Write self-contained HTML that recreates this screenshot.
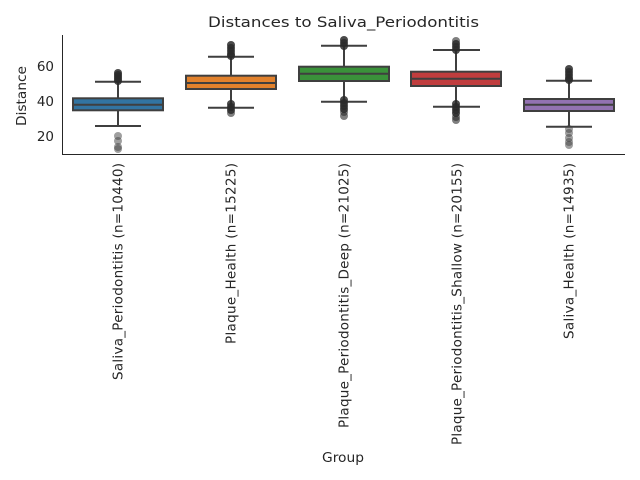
<!DOCTYPE html>
<html><head><style>body{margin:0;background:#fff}svg{display:block}text{font-family:"DejaVu Sans","Liberation Sans",sans-serif;fill:#262626}</style></head><body>
<svg width="640" height="480" viewBox="0 0 640 480" xmlns="http://www.w3.org/2000/svg">
<text x="343.5" y="27" font-size="14.4" text-anchor="middle" textLength="271" lengthAdjust="spacingAndGlyphs">Distances to Saliva_Periodontitis</text>
<g stroke="#262626" stroke-width="1" fill="none">
<line x1="62.5" y1="35" x2="62.5" y2="154.5"/>
<line x1="62" y1="154.5" x2="625" y2="154.5"/>
</g>
<g font-size="13.5" text-anchor="end">
<text x="54" y="141">20</text>
<text x="54" y="106">40</text>
<text x="54" y="71">60</text>
</g>
<text transform="translate(26,96) rotate(-90)" font-size="13.5" text-anchor="middle" textLength="60" lengthAdjust="spacingAndGlyphs">Distance</text>
<text x="343" y="462" font-size="13.5" text-anchor="middle" textLength="42" lengthAdjust="spacingAndGlyphs">Group</text>
<g font-size="13.5" text-anchor="end" lengthAdjust="spacingAndGlyphs">
<text transform="translate(122.5,163) rotate(-90)" textLength="217">Saliva_Periodontitis (n=10440)</text>
<text transform="translate(235.5,163) rotate(-90)" textLength="181">Plaque_Health (n=15225)</text>
<text transform="translate(348.5,163) rotate(-90)" textLength="265">Plaque_Periodontitis_Deep (n=21025)</text>
<text transform="translate(461.5,163) rotate(-90)" textLength="282">Plaque_Periodontitis_Shallow (n=20155)</text>
<text transform="translate(573.5,163) rotate(-90)" textLength="176">Saliva_Health (n=14935)</text>
</g>
<g stroke="#3f3f3f" stroke-width="2">
<line x1="118" y1="81.7" x2="118" y2="98.3"/><line x1="118" y1="110.3" x2="118" y2="126"/>
<line x1="95" y1="81.7" x2="141" y2="81.7"/><line x1="95" y1="126" x2="141" y2="126"/>
<rect x="73" y="98.3" width="90" height="12" fill="#3274a1"/><line x1="73" y1="104.7" x2="163" y2="104.7"/>
<line x1="231" y1="56.7" x2="231" y2="75.7"/><line x1="231" y1="89" x2="231" y2="107.7"/>
<line x1="208" y1="56.7" x2="254" y2="56.7"/><line x1="208" y1="107.7" x2="254" y2="107.7"/>
<rect x="186" y="75.7" width="90" height="13.3" fill="#e1812c"/><line x1="186" y1="83" x2="276" y2="83"/>
<line x1="344" y1="45.7" x2="344" y2="66.7"/><line x1="344" y1="81" x2="344" y2="101.7"/>
<line x1="321" y1="45.7" x2="367" y2="45.7"/><line x1="321" y1="101.7" x2="367" y2="101.7"/>
<rect x="299" y="66.7" width="90" height="14.3" fill="#3a923a"/><line x1="299" y1="73.7" x2="389" y2="73.7"/>
<line x1="456" y1="50" x2="456" y2="71.7"/><line x1="456" y1="86" x2="456" y2="106.7"/>
<line x1="433" y1="50" x2="480" y2="50"/><line x1="433" y1="106.7" x2="480" y2="106.7"/>
<rect x="411" y="71.7" width="90" height="14.3" fill="#c03d3e"/><line x1="411" y1="78.7" x2="501" y2="78.7"/>
<line x1="569" y1="80.7" x2="569" y2="99"/><line x1="569" y1="111" x2="569" y2="126.7"/>
<line x1="546" y1="80.7" x2="592" y2="80.7"/><line x1="546" y1="126.7" x2="592" y2="126.7"/>
<rect x="524" y="99" width="90" height="12" fill="#9372b2"/><line x1="524" y1="104.7" x2="614" y2="104.7"/>
</g>
<g fill="#2a2a2a" fill-opacity="0.85">
<circle cx="118" cy="73" r="4"/><circle cx="118" cy="75" r="4"/><circle cx="118" cy="77" r="4"/><circle cx="118" cy="79" r="4"/><circle cx="118" cy="81" r="4"/>
<circle cx="231" cy="45" r="4"/><circle cx="231" cy="48" r="4"/><circle cx="231" cy="51" r="4"/><circle cx="231" cy="54" r="4"/><circle cx="231" cy="56" r="4"/>
<circle cx="231" cy="104" r="4"/><circle cx="231" cy="107" r="4"/><circle cx="231" cy="110" r="4"/><circle cx="231" cy="113" r="4" fill-opacity="0.6"/>
<circle cx="344" cy="40" r="4"/><circle cx="344" cy="43" r="4"/><circle cx="344" cy="46" r="4"/>
<circle cx="344" cy="100" r="4"/><circle cx="344" cy="103" r="4"/><circle cx="344" cy="106" r="4"/><circle cx="344" cy="109" r="4"/><circle cx="344" cy="112" r="4" fill-opacity="0.6"/><circle cx="344" cy="116" r="4" fill-opacity="0.6"/>
<circle cx="456" cy="41" r="4" fill-opacity="0.6"/><circle cx="456" cy="44" r="4"/><circle cx="456" cy="47" r="4"/><circle cx="456" cy="50" r="4"/>
<circle cx="456" cy="104" r="4"/><circle cx="456" cy="107" r="4"/><circle cx="456" cy="110" r="4"/><circle cx="456" cy="113" r="4"/><circle cx="456" cy="117" r="4" fill-opacity="0.6"/><circle cx="456" cy="120" r="4" fill-opacity="0.6"/>
<circle cx="569" cy="69" r="4"/><circle cx="569" cy="72" r="4"/><circle cx="569" cy="75" r="4"/><circle cx="569" cy="78" r="4"/><circle cx="569" cy="80" r="4"/>
</g>
<g fill="#3f3f3f" fill-opacity="0.5">
<circle cx="118" cy="136" r="4"/><circle cx="118" cy="141" r="4"/><circle cx="118" cy="147" r="4"/><circle cx="118" cy="149" r="4"/>
<circle cx="569" cy="129" r="4"/><circle cx="569" cy="133" r="4"/><circle cx="569" cy="138" r="4"/><circle cx="569" cy="142" r="4"/><circle cx="569" cy="145" r="4"/>
</g>
</svg>
</body></html>
